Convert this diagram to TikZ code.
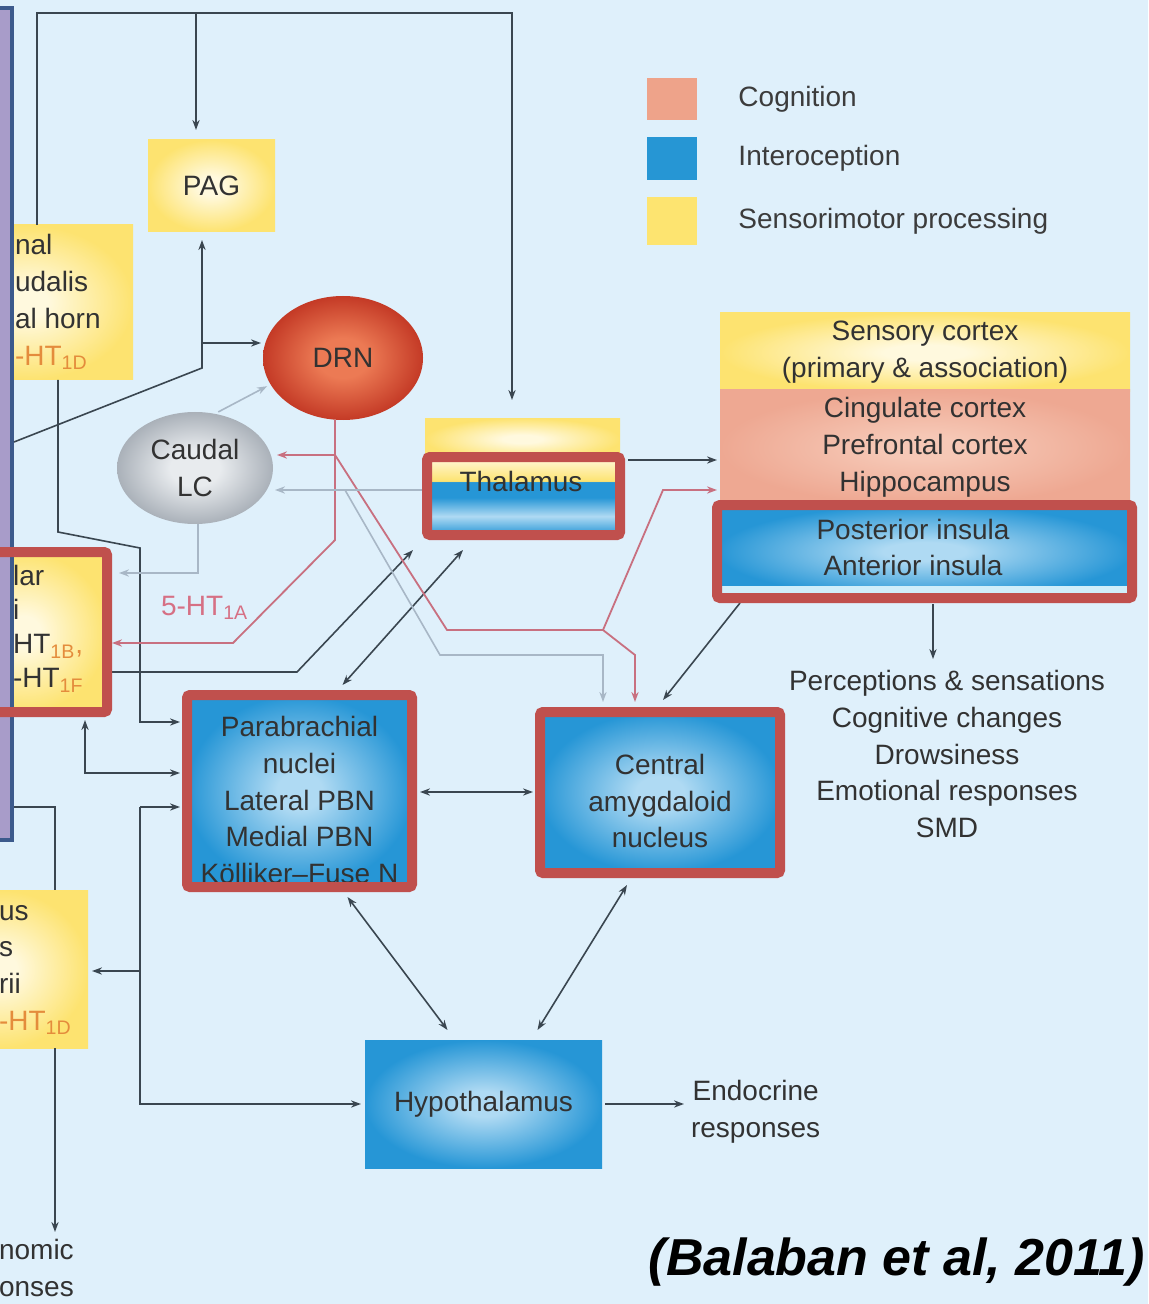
\documentclass[tikz,border=0pt]{standalone}
\usepackage{fontspec}
\setmainfont{Liberation Sans}
\usepackage{tikz}
\usetikzlibrary{arrows.meta,calc,positioning,shapes.geometric}

\definecolor{bgc}{RGB}{223,240,251}
\definecolor{textc}{RGB}{50,50,50}
\definecolor{legtc}{RGB}{60,60,60}
\definecolor{linec}{RGB}{58,70,80}
\definecolor{pinkc}{RGB}{200,112,128}
\definecolor{pinkt}{RGB}{214,112,132}
\definecolor{faintc}{RGB}{168,183,198}
\definecolor{redc}{RGB}{192,80,77}
\definecolor{htc}{RGB}{228,140,60}
\definecolor{panelf}{RGB}{168,156,201}
\definecolor{panelb}{RGB}{60,90,140}
\definecolor{stripc}{RGB}{208,238,250}
\definecolor{legsal}{RGB}{238,163,138}
\definecolor{legblu}{RGB}{38,150,212}
\definecolor{legyel}{RGB}{253,228,112}
\definecolor{bluE}{RGB}{38,150,214}
\definecolor{bluC}{RGB}{175,218,243}
\definecolor{yelE}{RGB}{253,227,112}
\definecolor{yelC}{RGB}{255,249,222}
\definecolor{salE}{RGB}{238,168,146}
\definecolor{salC}{RGB}{246,200,182}
\definecolor{drnE}{RGB}{196,58,38}
\definecolor{drnC}{RGB}{236,122,84}
\definecolor{lcE}{RGB}{170,177,185}
\definecolor{lcC}{RGB}{232,235,238}

% tikz fits the middle 50bp of a shading to the path
\pgfdeclareradialshading{blueglow}{\pgfpointorigin}{color(0bp)=(bluC);color(5bp)=(bluC);color(25bp)=(bluE);color(50bp)=(bluE)}
\pgfdeclareradialshading{yelglow}{\pgfpointorigin}{color(0bp)=(yelC);color(5bp)=(yelC);color(25bp)=(yelE);color(50bp)=(yelE)}
\pgfdeclareradialshading{salglow}{\pgfpointorigin}{color(0bp)=(salC);color(5bp)=(salC);color(25bp)=(salE);color(50bp)=(salE)}
\pgfdeclareradialshading{drnglow}{\pgfpointorigin}{color(0bp)=(drnC);color(8bp)=(drnC);color(25bp)=(drnE);color(50bp)=(drnE)}
\pgfdeclareradialshading{lcglow}{\pgfpointorigin}{color(0bp)=(lcC);color(8bp)=(lcC);color(25bp)=(lcE);color(50bp)=(lcE)}
\pgfdeclareverticalshading{thalfill}{100bp}{color(0bp)=(bluE);color(25bp)=(bluE);color(37bp)=(bluC);color(49bp)=(bluE);color(59bp)=(bluE);color(59.5bp)=(yelE);color(75bp)=(yelC);color(100bp)=(yelC)}

\begin{document}
\begin{tikzpicture}[x=0.5pt,y=-0.5pt,>={Stealth[length=5pt,width=3.6pt]},
  txt/.style={font=\fontsize{14}{18.4}\selectfont,text=textc,align=center},
  box/.style={txt,inner sep=0pt,outer sep=0pt},
  yelbox/.style={box,shade,shading=yelglow},
  bluebox/.style={box,shade,shading=blueglow},
  salbox/.style={box,shade,shading=salglow},
  redframe/.style={draw=redc,line width=5pt,rounded corners=1.5pt},
  conn/.style={draw=linec,line width=0.8pt},
  pinkl/.style={draw=pinkc,line width=0.9pt},
  faintl/.style={draw=faintc,line width=0.8pt}]
  \useasboundingbox (0,0) rectangle (1148,1304);
  \clip (0,0) rectangle (1148,1304);
  \fill[bgc] (0,0) rectangle (1148,1304);

  % legend
  \node[fill=legsal,minimum width=25pt,minimum height=21pt] (legcog) at (672,99) {};
  \node[fill=legblu,minimum width=25pt,minimum height=21.5pt] (legint) at (672,158.5) {};
  \node[fill=legyel,minimum width=25pt,minimum height=24pt] (legsen) at (672,221) {};
  \node[txt,text=legtc,right=17pt of legcog] (legcogtxt) {Cognition};
  \node[txt,text=legtc,right=17pt of legint] (leginttxt) {Interoception};
  \node[txt,text=legtc,right=17pt of legsen] (legsentxt) {Sensorimotor processing};

  % brainstem boxes
  \node[yelbox,minimum width=63.5pt,minimum height=46pt] (pag) at (211.5,186) {PAG};
  \node[yelbox,minimum width=106.5pt,minimum height=77.5pt] (trig) at (26.5,302.5) {};
  \node[txt,anchor=west,align=left] (trigtxt) at (8,302) {nal\\udalis\\al horn\\\textcolor{htc}{-HT\textsubscript{1D}}};
  \node[box,ellipse,shade,shading=drnglow,minimum width=80pt,minimum height=62pt] (drn) at (343,358) {DRN};
  \node[box,ellipse,shade,shading=lcglow,minimum width=78pt,minimum height=56pt] (lc) at (195,468) {Caudal\\LC};
  \node[yelbox,minimum width=83.5pt,minimum height=80pt] (vest) at (23.5,632) {};
  \node[txt,anchor=west,align=left,font=\fontsize{14}{17}\selectfont] (vesttxt) at (6,629)
    {lar\\i\\HT\textcolor{htc}{\textsubscript{1B},}\\-HT\textcolor{htc}{\textsubscript{1F}}};
  \node[yelbox,minimum width=89pt,minimum height=79pt] (nts) at (-1,969) {};
  \node[txt,anchor=west,align=left] (ntstxt) at (-8,970) {us\\s\\rii\\\textcolor{htc}{-HT\textsubscript{1D}}};
  \node[txt,anchor=west,align=left] (autotxt) at (-8,1268) {nomic\\onses};

  % forebrain boxes
  \node[yelbox,minimum width=97.5pt,minimum height=21pt] (thalcap) at (522.5,439) {};
  \node[box,shade,shading=thalfill,minimum width=96.5pt,minimum height=39pt] (thal) at (523.5,496) {};
  \node[txt] (thaltxt) at (521,481) {Thalamus};
  \node[yelbox,minimum width=205pt,minimum height=39.5pt] (sens) at (925,352.5) {Sensory cortex\\(primary \& association)};
  \node[salbox,minimum width=205pt,minimum height=57.5pt] (cog) at (925,447.5) {Cingulate cortex\\Prefrontal cortex\\Hippocampus};
  \node[bluebox,minimum width=207.5pt,minimum height=46.5pt] (ins) at (924.5,551.5) {};
  \fill[stripc] ($(ins.south west)+(0,-12)$) rectangle (ins.south east);
  \node[txt] (instxt) at (913,547.5) {Posterior insula\\Anterior insula};
  \node[bluebox,minimum width=112.5pt,minimum height=96pt] (pbn) at (299.5,791) {};
  \node[txt] (pbntxt) at (299.5,800) {Parabrachial\\nuclei\\Lateral PBN\\Medial PBN\\Kölliker–Fuse N};
  \node[bluebox,minimum width=120pt,minimum height=80.5pt] (amy) at (660,792.5) {};
  \node[txt] (amytxt) at (660,801) {Central\\amygdaloid\\nucleus};
  \node[bluebox,minimum width=118.5pt,minimum height=64pt] (hyp) at (483.5,1104) {Hypothalamus};

  % outputs
  \node[txt] (percep) at (947,754) {Perceptions \& sensations\\Cognitive changes\\Drowsiness\\Emotional responses\\SMD};
  \node[txt,anchor=west] (endo) at (684,1112) {Endocrine\\responses};
  \node[txt,text=pinkt,anchor=west] (htlab) at (154,608) {5-HT\textsubscript{1A}};
  \node[font=\fontsize{26}{30}\selectfont\bfseries\itshape,text=black,anchor=east] (cite) at (1152,1262) {(Balaban et al, 2011)};

  \node[draw=panelb,fill=panelf,line width=2pt,minimum width=12pt,minimum height=416pt,inner sep=0pt] (panel) at (0,424) {};

  % ascending / feedback lines
  \coordinate (topL) at (37,13);
  \coordinate (topR) at (512,13);
  \draw[conn,->,shorten >=9pt] (trig.north -| topL) -- (topL) -- (topR) -- (topR |- thalcap.north);
  \draw[conn,->,shorten >=5pt] (196,13) -- (pag.north -| 196,0);
  \coordinate (kneeA) at (202,368);
  \draw[conn,->,shorten >=4pt] (panel.east |- 0,442) -- (kneeA) -- (kneeA |- pag.south);
  \draw[conn,->,shorten >=1pt] (202,343) -- (drn.west |- 0,343);
  \draw[conn,->,shorten >=3.5pt] (trig.south -| 58,0) -- (58,532) -- (140,548) -- (140,722) -- (pbn.west |- 0,722);
  \draw[conn,->] (vest.east |- 0,672) -- (297,672) -- ($(thal.south west)+(-14,15)$);
  \draw[conn,<->] ($(pbn.north)+(43,-10)$) -- ($(thal.south west)+(36,15)$);

  % serotonergic (DRN)
  \coordinate (drnA) at (335,455);
  \draw[pinkl] (drn.south -| drnA) -- (drnA);
  \draw[pinkl,->,shorten >=2.5pt] (drnA) -- (335,540) -- (233,643) -- (vest.east |- 0,643);
  \draw[pinkl,->,shorten >=2pt] (drnA) -- (lc.east |- drnA);
  \draw[pinkl,->,shorten >=1.5pt] (drnA) -- (447,630) -- (603,630) -- (663,490) -- (cog.west |- 0,490);
  \draw[pinkl,->,shorten >=5pt] (603,630) -- (635,655) -- (amy.north -| 635,0);

  % noradrenergic (LC)
  \draw[faintl,->,shorten >=1pt] (thal.west |- 0,490) -- (lc.east |- 0,490);
  \draw[faintl,->,shorten >=5pt] (345,490) -- (440,655) -- (603,655) -- (amy.north -| 603,0);
  \draw[faintl,->,shorten >=2pt,shorten <=2pt] (lc.70) -- (drn.200);
  \draw[faintl,->,shorten >=6pt] (lc.south -| 198,0) -- (198,573) -- (vest.east |- 0,573);

  % forebrain links
  \draw[conn,->,shorten <=4pt,shorten >=1.5pt] (thal.east |- 0,460) -- (cog.west |- 0,460);
  \draw[conn,->] ($(ins.south west)+(23,5)$) -- ($(amy.north)+(3,-12)$);
  \draw[conn,->,shorten <=3pt,shorten >=2pt] (ins.south -| 933,0) -- (percep.north -| 933,0);
  \draw[conn,<->,shorten <=4pt,shorten >=3.5pt] (pbn.east |- 0,792) -- (amy.west |- 0,792);
  \draw[conn,<->] ($(pbn.south)+(48,10)$) -- ($(hyp.north)+(-36,-10)$);
  \draw[conn,<->] ($(amy.south)+(-33,12)$) -- ($(hyp.north)+(54,-10)$);
  \draw[conn,->,shorten <=1.5pt] (hyp.east) -- (endo.west |- hyp.east);

  % lower left
  \draw[conn,<->,shorten <=4pt,shorten >=3.5pt] (vest.south -| 85,0) -- (85,773) -- (pbn.west |- 0,773);
  \coordinate (hubB) at (140,807);
  \draw[conn,->,shorten >=3.5pt] (hubB) -- (pbn.west |- hubB);
  \draw[conn,->,shorten >=2pt] (hubB) -- (hubB |- hyp.west) -- (hyp.west);
  \draw[conn,->,shorten >=2pt] (hubB |- 0,971) -- (nts.east |- 0,971);
  \draw[conn] (panel.east |- hubB) -- (55,807) -- (nts.north -| 55,0);
  \draw[conn,->] (nts.south -| 55,0) -- ++(0,184);

  % highlight frames
  \foreach \n in {thal,ins,vest,pbn,amy}
    \draw[redframe] (\n.south west) rectangle (\n.north east);
\end{tikzpicture}
\end{document}
